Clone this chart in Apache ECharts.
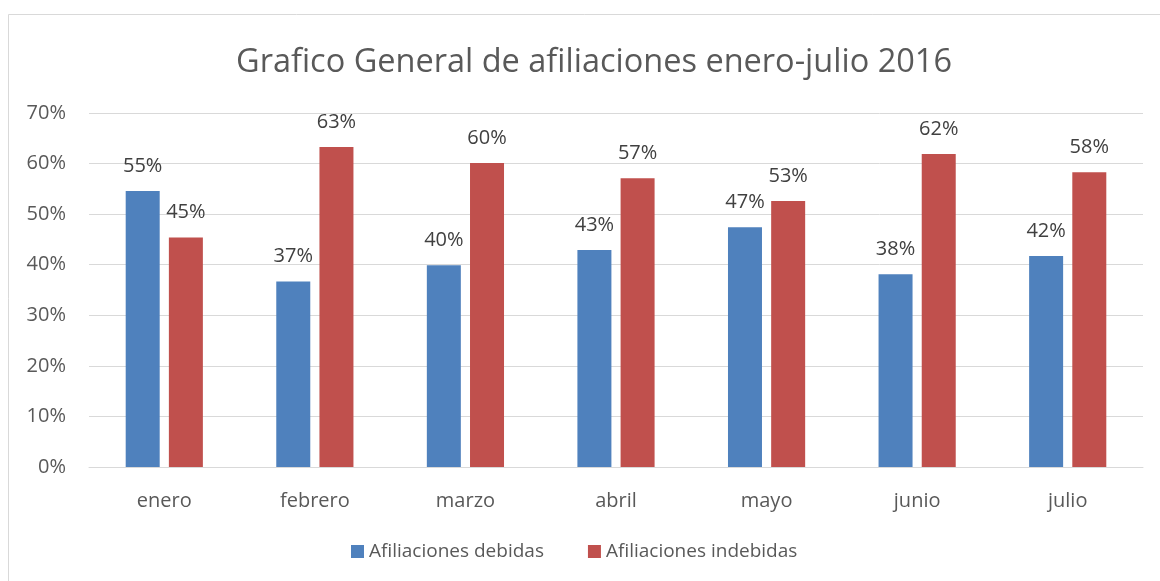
<!DOCTYPE html>
<html lang="es">
<head>
    <meta charset="UTF-8">
    <title>Grafico General de afiliaciones</title>
    <script src="https://cdn.jsdelivr.net/npm/echarts@6/dist/echarts.min.js"></script>
    <style>
        html, body { margin: 0; padding: 0; background: #fff; }
        #main { width: 1160px; height: 581px; }
    </style>
</head>
<body>
<div id="main"></div>
<script>
    var meses = ['enero', 'febrero', 'marzo', 'abril', 'mayo', 'junio', 'julio'];
    var debidas = [54.6, 36.7, 39.9, 42.9, 47.4, 38.1, 41.7];
    var indebidas = [45.4, 63.3, 60.1, 57.1, 52.6, 61.9, 58.3];
    var nombres = ['Afiliaciones debidas', 'Afiliaciones indebidas'];

    var fuente = '"Open Sans", "Noto Sans", sans-serif';

    var myChart = echarts.init(document.getElementById('main'));
    var option = {
        backgroundColor: '#fff',
        animation: false,
        textStyle: { fontFamily: fuente },
        title: {
            text: 'Grafico General de afiliaciones enero-julio 2016',
            left: 231,
            top: 41,
            textStyle: { fontFamily: fuente, fontSize: 32.5, fontWeight: 'normal', color: '#595959' }
        },
        graphic: [{
            type: 'rect',
            shape: { x: 8.5, y: 14.5, width: 1200, height: 600 },
            style: { fill: 'none', stroke: '#d9d9d9', lineWidth: 1 },
            silent: true
        }],
        legend: {
            bottom: 15,
            left: 346,
            icon: 'rect',
            itemWidth: 13,
            itemHeight: 13,
            itemGap: 44,
            textStyle: { fontFamily: fuente, fontSize: 19, color: '#595959' },
            data: nombres
        },
        grid: { left: 89, right: 17, top: 113, bottom: 114, containLabel: false },
        xAxis: {
            type: 'category',
            data: meses,
            axisLine: { lineStyle: { color: '#d9d9d9', width: 1 } },
            axisTick: { show: false },
            axisLabel: { fontSize: 20, color: '#595959', margin: 24 }
        },
        yAxis: {
            type: 'value',
            min: 0,
            max: 70,
            interval: 10,
            axisLine: { show: false },
            axisTick: { show: false },
            axisLabel: { fontSize: 20, color: '#595959', margin: 23, formatter: '{value}%' },
            splitLine: { lineStyle: { color: '#d9d9d9', width: 1 } }
        },
        series: [
            {
                name: nombres[0],
                type: 'bar',
                data: debidas,
                barWidth: 34,
                barGap: '27%',
                itemStyle: { color: '#4F81BD' },
                label: {
                    show: true, position: 'top', distance: 15,
                    fontSize: 20, color: '#404040',
                    formatter: function (p) { return Math.round(p.value) + '%'; }
                }
            },
            {
                name: nombres[1],
                type: 'bar',
                data: indebidas,
                barWidth: 34,
                itemStyle: { color: '#C0504D' },
                label: {
                    show: true, position: 'top', distance: 15,
                    fontSize: 20, color: '#404040',
                    formatter: function (p) { return Math.round(p.value) + '%'; }
                }
            }
        ]
    };
    option && myChart.setOption(option);
</script>
</body>
</html>
